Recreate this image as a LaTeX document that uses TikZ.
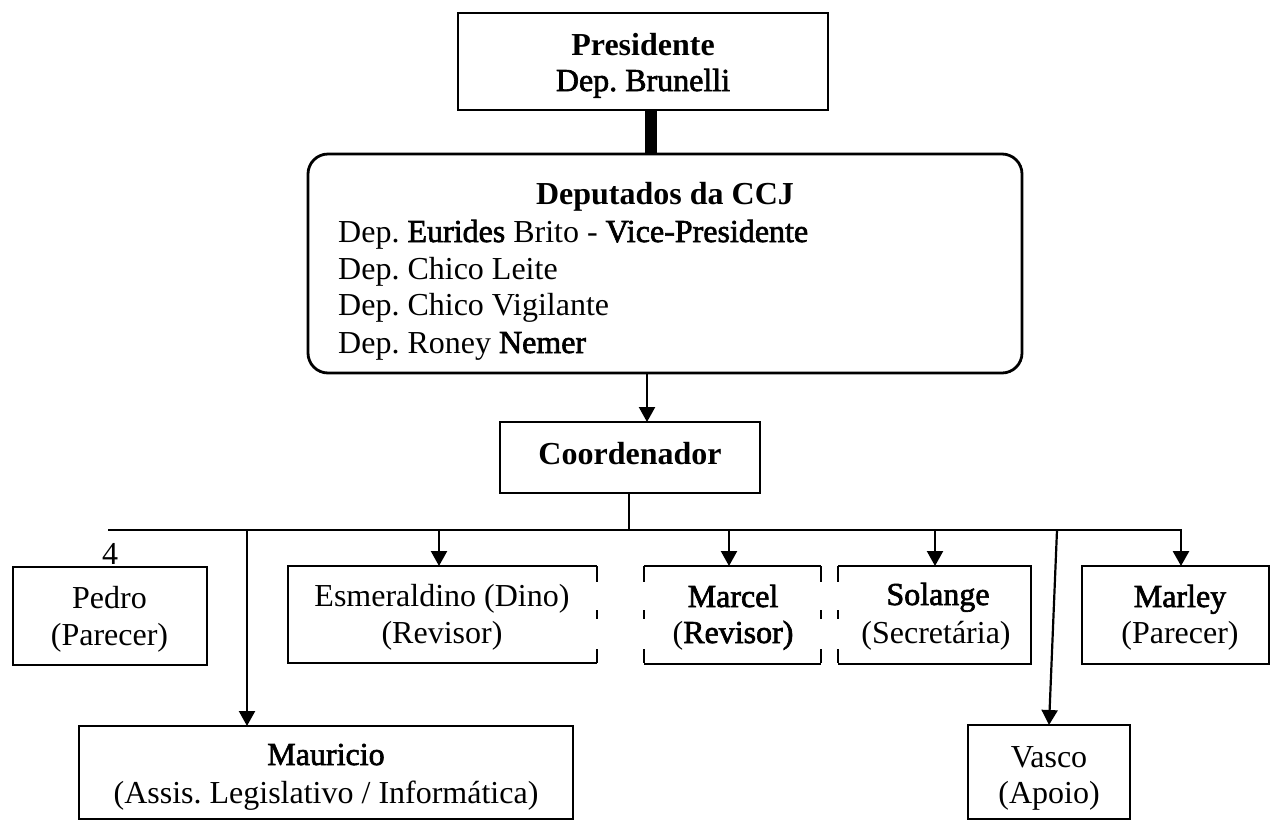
\documentclass[tikz,border=0pt]{standalone}
\usepackage{fontspec}
\setmainfont{Liberation Serif}
\newfontfamily\ocrfont{Liberation Serif}[FakeBold=2]
\usetikzlibrary{arrows.meta}
\frenchspacing
\begin{document}
\frenchspacing
\begin{tikzpicture}[x=1pt,y=-1pt,
  boxnode/.style={rectangle, draw=black, line width=2.8pt, inner sep=0pt, outer sep=0pt},
  openbox/.style={rectangle, draw=none, inner sep=0pt, outer sep=0pt},
  side/.style={line width=2.8pt, line join=miter},
  dside/.style={line width=2.8pt, dash pattern=on 16pt off 28pt on 9pt off 30pt on 14pt},
  txt/.style={font=\fontsize{32}{37}\selectfont, inner sep=0pt, anchor=base},
  ltxt/.style={font=\fontsize{32}{37}\selectfont, inner sep=0pt, anchor=base west},
  conn/.style={line width=2.2pt, -{Triangle[width=16pt,length=15pt]}},
  link/.style={line width=2.2pt},
  bus/.style={line width=2.8pt, -{Triangle[width=16pt,length=15pt]}},
  bar/.style={line width=12pt}]
\path[use as bounding box, fill=white] (0,0) rectangle (1272,820);

% boxes
\node[boxnode, minimum width=370pt, minimum height=97pt] (pres) at (643,61.5) {};
\node[boxnode, rounded corners=20pt, minimum width=714pt, minimum height=219pt] (dep) at (665,263.5) {};
\node[boxnode, minimum width=260pt, minimum height=71pt] (coord) at (630,457.5) {};
\node[boxnode, minimum width=194pt, minimum height=98pt] (pedro) at (110,616) {};
\node[openbox, minimum width=309pt, minimum height=97pt] (esm) at (442.5,614.5) {};
\node[openbox, minimum width=177pt, minimum height=98pt] (marcel) at (732.5,615) {};
\node[openbox, minimum width=193pt, minimum height=98pt] (sol) at (934.5,615) {};
\node[boxnode, minimum width=187pt, minimum height=98pt] (marley) at (1175.5,615) {};
\node[boxnode, minimum width=494pt, minimum height=93pt] (maur) at (326,772.5) {};
\node[boxnode, minimum width=162pt, minimum height=94pt] (vasco) at (1049,772) {};

% partly broken sides
\draw[side] (esm.north east) -- (esm.north west) -- (esm.south west) -- (esm.south east);
\draw[dside] (esm.north east) -- (esm.south east);
\draw[side] (marcel.north west) -- (marcel.north east);
\draw[side] (marcel.south west) -- (marcel.south east);
\draw[dside] (marcel.north west) -- (marcel.south west);
\draw[dside] (marcel.north east) -- (marcel.south east);
\draw[side] (sol.north west) -- (sol.north east) -- (sol.south east) -- (sol.south west);
\draw[dside] (sol.north west) -- (sol.south west);

% texts
\node[txt] (t1) at (643,55) {\textbf{Presidente}};
\node[txt] (t2) at (643,91) {{\ocrfont Dep. Brunelli}};
\node[txt] (t3) at (665,204) {\textbf{Deputados da CCJ}};
\node[ltxt] (t4) at (338,242) {Dep. {\ocrfont Eurides} Brito - {\ocrfont Vice-Presidente}};
\node[ltxt] (t5) at (338,279) {Dep. Chico Leite};
\node[ltxt] (t6) at (338,315) {Dep. Chico Vigilante};
\node[ltxt] (t7) at (338,353) {Dep. Roney {\ocrfont Nemer}};
\node[txt] (t8) at (630,464) {\textbf{Coordenador}};
\node[txt] (t9) at (110,564) {4};
\node[txt] (t10) at (109.5,608) {Pedro};
\node[txt] (t11) at (109.5,645) {(Parecer)};
\node[txt] (t12) at (442,606) {Esmeraldino (Dino)};
\node[txt] (t13) at (442,643) {(Revisor)};
\node[txt] (t14) at (733,607) {{\ocrfont Marcel}};
\node[txt] (t15) at (733,643) {({\ocrfont Revisor)}};
\node[txt] (t16) at (938,605) {{\ocrfont Solange}};
\node[txt] (t17) at (936,643) {(Secretária)};
\node[txt] (t18) at (1180,607) {{\ocrfont Marley}};
\node[txt] (t19) at (1180,643) {(Parecer)};
\node[txt] (t20) at (326,765) {{\ocrfont Mauricio}};
\node[txt] (t21) at (326,803) {(Assis. Legislativo / Informática)};
\node[txt] (t22) at (1049,767) {Vasco};
\node[txt] (t23) at (1049,803) {(Apoio)};

% connector coordinates
\coordinate (bx) at (651,0);
\coordinate (ax) at (647,0);
\coordinate (xk) at (629,530);
\coordinate (busL) at (108,530);
\coordinate (busR) at (1181,530);
\coordinate (xm) at (247,530);
\coordinate (xe) at (439,530);
\coordinate (xc) at (729,530);
\coordinate (xs) at (935,530);
\coordinate (xv) at (1057,530);

% connectors
\draw[bar] (pres.south -| bx) -- (dep.north -| bx);
\draw[conn] (dep.south -| ax) -- (coord.north -| ax);
\draw[link] (coord.south -| xk) -- (xk);
\draw[bus] (busL) -- (busR) -- (marley.north -| busR);
\draw[conn] (xm) -- (maur.north -| xm);
\draw[conn] (xe) -- (esm.north -| xe);
\draw[conn] (xc) -- (marcel.north -| xc);
\draw[conn] (xs) -- (sol.north -| xs);
\draw[conn] (xv) -- (vasco.north);
\end{tikzpicture}
\end{document}
